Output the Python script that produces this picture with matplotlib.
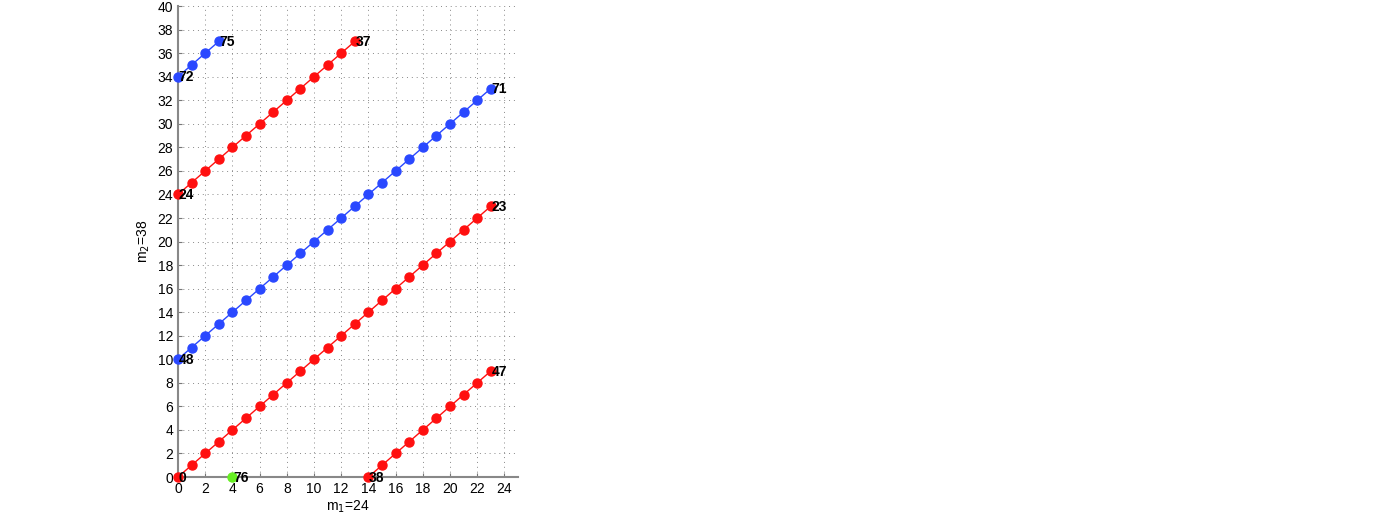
import matplotlib
matplotlib.use("Agg")
import matplotlib.pyplot as plt

plt.rcParams["font.family"] = ["Liberation Sans", "DejaVu Sans"]

# segments of the walk (m1 coordinate, m2 coordinate), broken where it wraps
seg_a_x = [0, 1, 2, 3, 4, 5, 6, 7, 8, 9, 10, 11, 12, 13, 14, 15, 16, 17, 18, 19, 20, 21, 22, 23]
seg_a_y = [0, 1, 2, 3, 4, 5, 6, 7, 8, 9, 10, 11, 12, 13, 14, 15, 16, 17, 18, 19, 20, 21, 22, 23]
seg_b_x = [0, 1, 2, 3, 4, 5, 6, 7, 8, 9, 10, 11, 12, 13]
seg_b_y = [24, 25, 26, 27, 28, 29, 30, 31, 32, 33, 34, 35, 36, 37]
seg_c_x = [14, 15, 16, 17, 18, 19, 20, 21, 22, 23]
seg_c_y = [0, 1, 2, 3, 4, 5, 6, 7, 8, 9]
seg_d_x = [0, 1, 2, 3, 4, 5, 6, 7, 8, 9, 10, 11, 12, 13, 14, 15, 16, 17, 18, 19, 20, 21, 22, 23]
seg_d_y = [10, 11, 12, 13, 14, 15, 16, 17, 18, 19, 20, 21, 22, 23, 24, 25, 26, 27, 28, 29, 30, 31, 32, 33]
seg_e_x = [0, 1, 2, 3]
seg_e_y = [34, 35, 36, 37]
seg_f_x = [4]
seg_f_y = [0]

# endpoint labels: (x, y, text)
label_x = [0, 23, 0, 13, 14, 23, 0, 23, 0, 3, 4]
label_y = [0, 23, 24, 37, 0, 9, 10, 33, 34, 37, 0]
label_txt = ["0", "23", "24", "37", "38", "47", "48", "71", "72", "75", "76"]

red = "#ff1010"
blue = "#2a48ff"
green = "#66ee22"

segments = [
    (seg_a_x, seg_a_y, red),
    (seg_b_x, seg_b_y, red),
    (seg_c_x, seg_c_y, red),
    (seg_d_x, seg_d_y, blue),
    (seg_e_x, seg_e_y, blue),
    (seg_f_x, seg_f_y, green),
]

fig = plt.figure(figsize=(13.84, 5.25), dpi=100)
ax = fig.add_axes([0.1286, 0.0914, 0.2457, 0.897])

for xs, ys, c in segments:
    ax.plot(xs, ys, "-", color=c, lw=1.0, marker="o", ms=6.5,
            mfc=c, mec=c, clip_on=False, zorder=3)

for x, y, t in zip(label_x, label_y, label_txt):
    ax.annotate(t, (x, y), xytext=(0.5, -0.5), textcoords="offset points",
                ha="left", va="center", fontsize=10, fontweight="bold",
                color="black", zorder=4, annotation_clip=False)

ax.set_xlim(0, 25)
ax.set_ylim(0, 40)
ax.set_xticks(range(0, 25, 2))
ax.set_yticks(range(0, 41, 2))
ax.tick_params(direction="in", length=3, labelsize=10, color="#777777")
ax.grid(True, linestyle=(0, (1, 4)), color="#888888", lw=0.7)
for s in ["top", "right"]:
    ax.spines[s].set_visible(False)
for s in ["left", "bottom"]:
    ax.spines[s].set_color("#888888")
    ax.spines[s].set_linewidth(1.5)

ax.set_xlabel("m$_1$=24", fontsize=10, labelpad=2)
ax.set_ylabel("m$_2$=38", fontsize=10, labelpad=4)

fig.savefig("out.png", dpi=100)
